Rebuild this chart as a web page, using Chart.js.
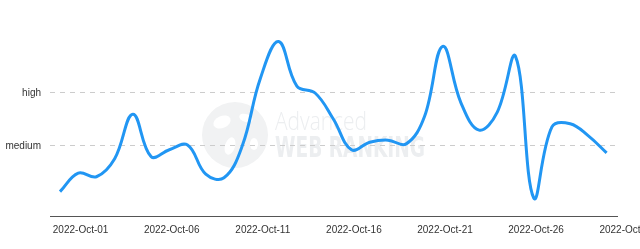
<!DOCTYPE html>
<html>
<head>
<meta charset="utf-8">
<script src="https://cdn.jsdelivr.net/npm/chart.js@4"></script>
<style>
  html, body { margin: 0; padding: 0; background: #ffffff; }
  #wrap { width: 640px; height: 249px; position: relative; }
</style>
</head>
<body>
<div id="wrap"><canvas id="c" width="640" height="249"></canvas></div>
<script>
// Days from 2022-Sep-30 (index 0) to 2022-Oct-30 (index 30)
const dayIndex = [0,1,2,3,4,5,6,7,8,9,10,11,12,13,14,15,16,17,18,19,20,21,22,23,24,25,26,27,28,29,30];
// Level: medium = 1, high = 2
const levelValues = [0.14,0.49,0.42,0.76,1.60,0.80,0.93,1.02,0.47,0.40,1.00,2.28,2.97,2.13,2.00,1.51,0.93,1.07,1.11,1.04,1.55,2.88,1.82,1.30,1.64,2.69,0.02,1.36,1.42,1.19,0.87];
// X tick labels (every 5 days) and their day indices
const xTickDays = [1,6,11,16,21,26,31];
const xTickLabels = ['2022-Oct-01','2022-Oct-06','2022-Oct-11','2022-Oct-16','2022-Oct-21','2022-Oct-26','2022-Oct-31'];
// Y tick levels and labels
const yTickLevels = [1,2];
const yTickLabels = ['medium','high'];

const points = dayIndex.map((d, i) => ({ x: d, y: levelValues[i] }));

const watermark = {
  id: 'watermark',
  beforeDraw(chart) {
    const ctx = chart.ctx;
    ctx.save();
    // globe
    ctx.fillStyle = '#f1f2f3';
    ctx.beginPath();
    ctx.arc(235, 135, 33, 0, Math.PI * 2);
    ctx.fill();
    ctx.fillStyle = '#ffffff';
    ctx.beginPath();
    ctx.ellipse(222, 122, 9, 6, -0.4, 0, Math.PI * 2);
    ctx.fill();
    ctx.beginPath();
    ctx.ellipse(246, 118, 7, 4, 0.3, 0, Math.PI * 2);
    ctx.fill();
    ctx.beginPath();
    ctx.ellipse(230, 146, 5, 9, 0.3, 0, Math.PI * 2);
    ctx.fill();
    ctx.beginPath();
    ctx.ellipse(254, 144, 4, 6, 0, 0, Math.PI * 2);
    ctx.fill();
    // text
    ctx.fillStyle = '#eceef0';
    ctx.textBaseline = 'alphabetic';
    ctx.font = '300 25px "Open Sans", Roboto, sans-serif';
    ctx.fillText('Advanced', 275, 130, 92);
    ctx.font = 'bold 28px "Liberation Sans Narrow", "DejaVu Sans Condensed", sans-serif';
    ctx.fillText('WEB RANKING', 275, 157, 150);
    ctx.restore();
  }
};

new Chart(document.getElementById('c'), {
  type: 'line',
  data: {
    datasets: [{
      data: points,
      borderColor: '#2196f3',
      borderWidth: 3,
      pointRadius: 0,
      tension: 0.4,
      fill: false
    }]
  },
  options: {
    responsive: false,
    animation: false,
    layout: { padding: { top: 10, right: 23, bottom: 0, left: 0 } },
    plugins: { legend: { display: false }, tooltip: { enabled: false } },
    scales: {
      x: {
        type: 'linear',
        min: -0.549,
        max: 30.57,
        afterBuildTicks(scale) { scale.ticks = xTickDays.map(v => ({ value: v + 0.13 })); },
        afterFit(scale) { scale.height = 33; scale.paddingLeft = 0; scale.paddingRight = 0; },
        grid: { display: false, drawTicks: false },
        border: { display: true, color: '#555555', width: 1 },
        ticks: {
          autoSkip: false, maxRotation: 0, minRotation: 0, padding: 8,
          color: '#333333', font: { family: '"Liberation Sans", Arial, sans-serif', size: 10 },
          callback: (v, i) => xTickLabels[i]
        }
      },
      y: {
        type: 'linear',
        min: -0.3208,
        max: 3.566,
        afterBuildTicks(scale) { scale.ticks = yTickLevels.map(v => ({ value: v })); },
        afterFit(scale) { scale.width = 50; scale.paddingTop = 0; scale.paddingBottom = 0; },
        grid: { color: '#cccccc', lineWidth: 1, drawTicks: false },
        border: { display: false, dash: [5, 5] },
        ticks: {
          padding: 9,
          color: '#333333', font: { family: '"Liberation Sans", Arial, sans-serif', size: 10 },
          callback: (v, i) => yTickLabels[i]
        }
      }
    }
  },
  plugins: [watermark]
});
</script>
</body>
</html>
